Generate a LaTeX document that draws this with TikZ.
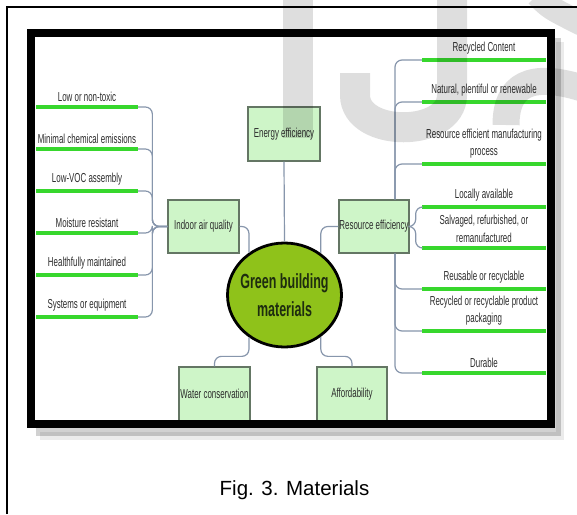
\documentclass[tikz,border=0pt]{standalone}
\usepackage{fontspec}
\setmainfont{Liberation Sans}
\newfontfamily\narrowfont[FakeStretch=0.61]{Liberation Sans}
\usetikzlibrary{shapes.geometric,calc}
\definecolor{boxfill}{RGB}{206,245,200}
\definecolor{boxdraw}{RGB}{100,118,100}
\definecolor{glinecol}{RGB}{55,215,45}
\definecolor{conncol}{RGB}{135,150,172}
\definecolor{ellfill}{RGB}{143,194,26}
\definecolor{elltext}{RGB}{30,45,15}
\definecolor{lbltext}{RGB}{45,45,45}
\begin{document}
\begin{tikzpicture}[x=1pt,y=-1pt,
  box/.style={rectangle, draw=boxdraw, fill=boxfill, line width=1.3pt, inner sep=0pt,
    font=\narrowfont\fontsize{13}{15}\selectfont, text=lbltext},
  gline/.style={rectangle, fill=glinecol, inner sep=0pt, minimum height=4.5pt},
  lbl/.style={font=\narrowfont\fontsize{13}{17.5}\selectfont, text=lbltext, align=center, inner sep=0pt},
  conn/.style={draw=conncol, line width=1.2pt, rounded corners=7pt},
  label distance=3pt]
\useasboundingbox (0,0) rectangle (577,514);
\fill[white] (0,0) rectangle (577,514);
% outer thin frame
\draw[line width=1.8pt] (7,514) -- (7,7) -- (577,7);
% shadow of inner frame
\draw[line width=8pt, black, opacity=0.18] (36,432) -- (557,432) -- (557,38);
\draw[line width=8pt, black, opacity=0.08] (40,436) -- (560,436) -- (560,42);
% boxes
\node[box, minimum width=72pt, minimum height=54pt] (energy) at (284,134) {Energy efficiency};
\node[box, minimum width=71pt, minimum height=53pt] (iaq) at (203.5,226.5) {Indoor air quality};
\node[box, minimum width=70pt, minimum height=53pt] (res) at (374,226.5) {Resource efficiency};
\node[box, minimum width=71pt, minimum height=54pt] (water) at (214.5,394) {Water conservation};
\node[box, minimum width=70pt, minimum height=54pt] (aff) at (352,394) {Affordability};
% ellipse
\node[ellipse, draw=black, line width=2.8pt, fill=ellfill, minimum width=114pt, minimum height=104pt, inner sep=0pt] (e) at (284.5,295) {};
\node[font=\narrowfont\bfseries\fontsize{20.5}{28}\selectfont, text=elltext, align=center, inner sep=0pt] (etext) at (e.center) {Green building\\materials};
% left items
\node[gline, minimum width=102pt, label={[lbl]above:Low or non-toxic}] (l1) at (87,107) {};
\node[gline, minimum width=102pt, label={[lbl]above:Minimal chemical emissions}] (l2) at (87,149) {};
\node[gline, minimum width=102pt, label={[lbl]above:Low-VOC assembly}] (l3) at (87,191) {};
\node[gline, minimum width=102pt, label={[lbl]above:Moisture resistant}] (l4) at (87,233) {};
\node[gline, minimum width=102pt, label={[lbl]above:Healthfully maintained}] (l5) at (87,275) {};
\node[gline, minimum width=102pt, label={[lbl]above:Systems or equipment}] (l6) at (87,317) {};
% right items
\node[gline, minimum width=124pt, label={[lbl]above:Recycled Content}] (r1) at (484,60) {};
\node[gline, minimum width=124pt, label={[lbl]above:Natural, plentiful or renewable}] (r2) at (484,102) {};
\node[gline, minimum width=124pt, label={[lbl]above:Resource efficient manufacturing\\process}] (r3) at (484,164) {};
\node[gline, minimum width=124pt, label={[lbl]above:Locally available}] (r4) at (484,207) {};
\node[gline, minimum width=124pt, label={[lbl]above:Salvaged, refurbished, or\\remanufactured}] (r5) at (484,248) {};
\node[gline, minimum width=124pt, label={[lbl]above:Reusable or recyclable}] (r6) at (484,289) {};
\node[gline, minimum width=124pt, label={[lbl]above:Recycled or recyclable product\\packaging}] (r7) at (484,331) {};
\node[gline, minimum width=124pt, label={[lbl]above:Durable}] (r8) at (484,373) {};
% connectors left
\foreach \n in {l1,l2,l3,l4,l5,l6}
  \draw[conn] (iaq.west) -- ++(-15,0) |- (\n.east);
% connectors right
\foreach \n in {r1,r2,r3}
  \draw[conn] ($(res.north)+(21,0)$) |- (\n.west);
\foreach \n in {r4,r5}
  \draw[conn] (res.east) -- ++(6,0) |- (\n.west);
\foreach \n in {r6,r7,r8}
  \draw[conn] ($(res.south)+(21,0)$) |- (\n.west);
% connectors centre
\draw[conn] (energy.south) -- (e.north);
\draw[conn] (iaq.east) -| (e.130);
\draw[conn] (res.west) -| (e.49);
\draw[conn] (e.230) |- ($(water.north)+(0,-10)$) -- (water.north);
\draw[conn] (e.311) |- ($(aff.north)+(0,-10)$) -- (aff.north);
% inner thick frame
\draw[line width=8pt] (31,33) rectangle (551,424);
% caption
\node[anchor=base, font=\fontsize{20.5}{24}\selectfont, inner sep=0pt] (cap) at (294.5,495) {Fig. 3. Materials};
% watermark
\begin{scope}[opacity=0.13]
  \fill (283,0) rectangle (313,138);
  \draw[line width=30pt] (452,-5) -- (452,95) .. controls (452,138) and (355,138) .. (355,95) -- (355,73);
  \draw[line width=24pt] (537,-5) .. controls (550,8) .. (582,24);
  \draw[line width=27pt] (506,125) .. controls (506,85) and (530,72) .. (582,88);
\end{scope}
\end{tikzpicture}
\end{document}
